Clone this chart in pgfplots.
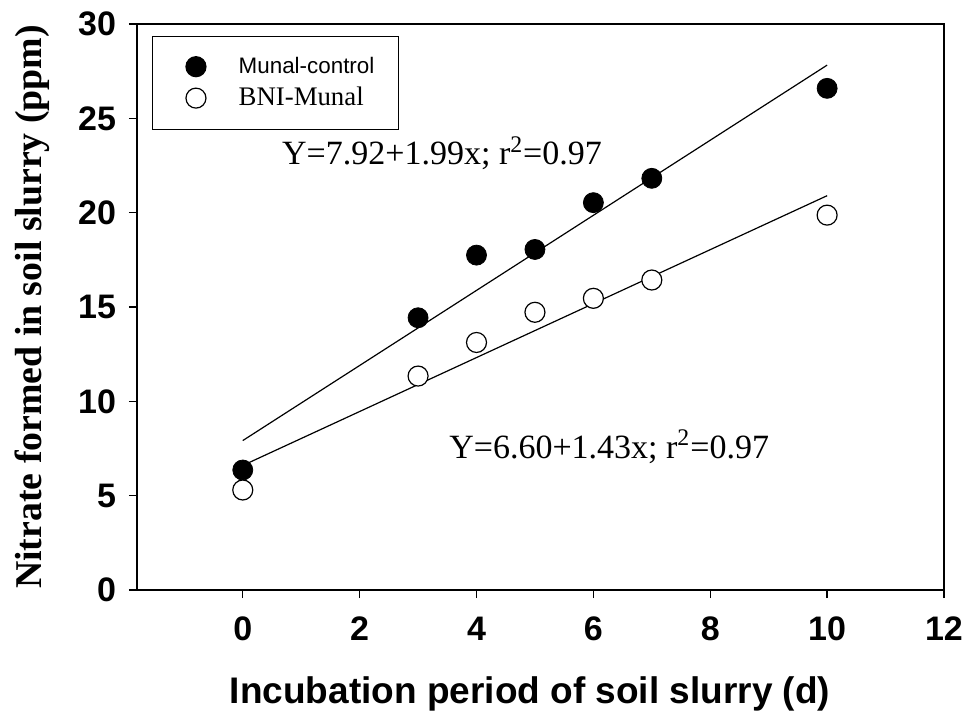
\documentclass[border=0pt]{standalone}
\usepackage{fontspec}
\setmainfont{Liberation Serif}
\setsansfont{Liberation Sans}
\usepackage{pgfplots}
\pgfplotsset{compat=1.18}
\begin{document}
\begin{tikzpicture}
\path[use as bounding box] (-68.5pt,-64pt) rectangle (416.5pt,295pt);
\begin{axis}[
  at={(0pt,0pt)}, anchor=south west,
  scale only axis, width=403.5pt, height=283pt,
  xmin=-1.81, xmax=12, ymin=0, ymax=30,
  xtick={0,2,...,12}, ytick={0,5,...,30},
  xtick pos=bottom, ytick pos=left,
  tick align=outside, major tick length=4pt,
  axis line style={line width=0.7pt},
  every tick/.style={black, line width=0.7pt},
  /pgf/number format/assume math mode=true,
  ticklabel style={font=\sffamily\bfseries\fontsize{17}{20}\selectfont},
  xticklabel style={yshift=-6pt},
  yticklabel style={xshift=-3pt},
  xlabel={Incubation period of soil slurry (d)},
  xlabel style={font=\sffamily\bfseries\fontsize{18.5}{22}\selectfont, at={(axis description cs:0.487,-0.184)}, anchor=center},
  ylabel={Nitrate formed in soil slurry (ppm)},
  ylabel style={font=\bfseries\fontsize{18.9}{22}\selectfont, at={(axis description cs:-0.130,0.5)}, anchor=center},
  legend style={at={(axis description cs:0.0186,0.979)}, anchor=north west, draw=black, line width=0.6pt, inner xsep=10pt, inner ysep=8.3pt, row sep=1.5pt},
  legend cell align=left,
  legend image code/.code={\path (0cm,0cm) (1.07cm,0cm); \draw[#1] plot coordinates {(0.4cm,0cm)};},
]
\addplot[black, line width=0.6pt, forget plot] coordinates {(0,7.92) (10,27.82)};
\addplot[black, line width=0.6pt, forget plot] coordinates {(0,6.60) (10,20.90)};
\addplot[only marks, mark=*, mark size=5pt, draw=black, fill=black] coordinates {
(0,6.36) (3,14.43) (4,17.75) (5,18.05) (6,20.53) (7,21.82) (10,26.59)};
\addlegendentry{\sffamily\fontsize{11.2}{13}\selectfont Munal-control}
\addplot[only marks, mark=*, mark size=5pt, draw=black, fill=white, line width=0.6pt] coordinates {
(0,5.30) (3,11.34) (4,13.12) (5,14.72) (6,15.46) (7,16.43) (10,19.87)};
\addlegendentry{\fontsize{13.4}{15}\selectfont BNI-Munal}
\node[font=\fontsize{17}{20}\selectfont] at (axis cs:3.41,23.16) {Y=7.92+1.99x; r\textsuperscript{2}=0.97};
\node[font=\fontsize{17}{20}\selectfont] at (axis cs:6.27,7.58) {Y=6.60+1.43x; r\textsuperscript{2}=0.97};
\end{axis}
\end{tikzpicture}
\end{document}
